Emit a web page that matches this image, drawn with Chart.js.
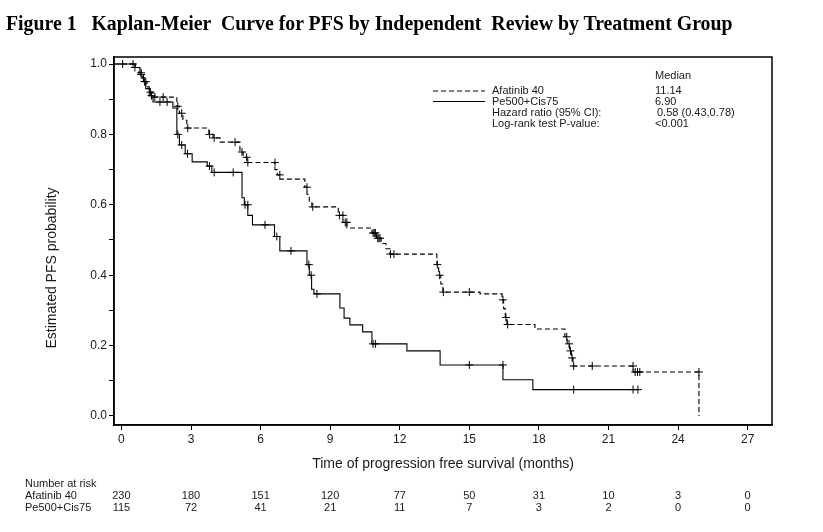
<!DOCTYPE html>
<html>
<head>
<meta charset="utf-8">
<script src="https://cdn.jsdelivr.net/npm/chart.js@4.4.1/dist/chart.umd.min.js"></script>
<style>
  html, body { margin: 0; padding: 0; background: #fff; }
  #wrap { position: relative; width: 823px; height: 532px; }
  #km { position: absolute; left: 0; top: 0; }
  #title {
    position: absolute; left: 6px; top: 12px;
    font: bold 20px "Liberation Serif", "Times New Roman", serif;
    white-space: pre; transform-origin: 0 0; color: #000;
  }
</style>
</head>
<body>
<div id="wrap">
  <canvas id="km" width="823" height="532"></canvas>
  <div id="title">Figure 1   Kaplan-Meier  Curve for PFS by Independent  Review by Treatment Group</div>
</div>
<script>
// KM step data (time in months, estimated PFS probability)
const afatinibTimes = [0, 0.55, 0.75, 0.9, 1.0, 1.1, 1.2, 1.36, 2.39, 2.5, 2.65, 2.82, 3.77, 3.95, 4.25,
  5.11, 5.25, 5.41, 6.62, 6.72, 6.83, 7.91, 8.0, 8.1, 8.21, 9.35, 9.55, 9.72, 10.8, 11.0, 11.2, 11.4, 11.58,
  13.6, 13.68, 13.77, 13.86, 15.46, 16.41, 16.48, 16.55, 16.62, 17.83, 19.12, 19.22, 19.32, 19.4, 19.47, 22.06, 24.9];
const afatinibSurv = [1.0, 0.99, 0.975, 0.96, 0.95, 0.935, 0.92, 0.906, 0.88, 0.86, 0.84, 0.818, 0.80, 0.79, 0.778,
  0.75, 0.735, 0.72, 0.70, 0.685, 0.673, 0.65, 0.63, 0.61, 0.594, 0.57, 0.55, 0.534, 0.52, 0.505, 0.49, 0.475, 0.46,
  0.43, 0.40, 0.375, 0.352, 0.347, 0.33, 0.305, 0.28, 0.26, 0.247, 0.225, 0.205, 0.185, 0.165, 0.142, 0.125, 0.0];
const afatinibCensored = [0.58, 0.85, 1.05, 1.25, 1.44, 1.8, 2.43, 2.6, 2.86, 3.8, 4.0, 4.9, 5.2, 5.4, 5.45,
  6.62, 6.83, 8.0, 8.25, 9.4, 9.55, 9.65, 9.72, 10.85, 10.9, 10.95, 11.05, 11.1, 11.15, 11.6, 11.75,
  13.62, 13.72, 13.88, 15.0, 16.45, 16.58, 16.65, 19.2, 19.3, 19.36, 19.43, 19.5, 20.3, 22.06, 22.15, 22.25, 22.35, 24.9];

const pemTimes = [0, 0.6, 0.8, 0.95, 1.05, 1.2, 1.36, 2.22, 2.39, 2.5, 2.75, 3.05, 3.7, 3.9, 5.2, 5.3, 5.45, 5.65,
  6.6, 6.83, 8.0, 8.1, 8.2, 8.3, 9.42, 9.6, 9.85, 10.4, 10.8, 12.31, 13.74, 16.45, 17.74, 22.27];
const pemSurv = [1.0, 0.99, 0.97, 0.95, 0.93, 0.91, 0.892, 0.875, 0.80, 0.77, 0.745, 0.722, 0.71, 0.692, 0.62, 0.60,
  0.57, 0.543, 0.51, 0.469, 0.43, 0.40, 0.36, 0.347, 0.307, 0.278, 0.259, 0.239, 0.205, 0.185, 0.145, 0.103, 0.075, 0.075];
const pemCensored = [0.05, 0.5, 0.85, 1.0, 1.3, 1.66, 1.97, 2.43, 2.6, 2.85, 3.8, 4.0, 4.82, 5.33, 5.45, 6.19, 6.7,
  7.31, 8.08, 8.18, 8.43, 10.85, 10.95, 15.0, 16.45, 19.5, 22.06, 22.27];

const riskTimes = [0, 3, 6, 9, 12, 15, 18, 21, 24, 27];
const afatinibAtRisk = [230, 180, 151, 120, 77, 50, 31, 10, 3, 0];
const pemAtRisk = [115, 72, 41, 21, 11, 7, 3, 2, 0, 0];

const groupNames = ['Afatinib 40', 'Pe500+Cis75'];
const medians = ['11.14', '6.90'];
const hazardText = '0.58 (0.43,0.78)';
const pValueText = '<0.001';

const X_MIN = -0.32, X_MAX = 28.05;
const Y_MIN = -0.0256, Y_MAX = 1.0199;

function stepPoints(times, surv) {
  const pts = [{ x: X_MIN, y: surv[0] }];
  times.forEach((t, i) => pts.push({ x: t, y: surv[i] }));
  return pts;
}
// value just before time t (censor marks sit on the curve)
function survBefore(times, surv, t) {
  let s = surv[0];
  for (let i = 0; i < times.length; i++) {
    if (times[i] < t) s = surv[i]; else break;
  }
  return s;
}
function censorPoints(cens, times, surv) {
  return cens.map(t => ({ x: t, y: survBefore(times, surv, t) }));
}

const FONT = '"Liberation Sans", Arial, sans-serif';
const TXT = '#1a1a1a';

const decorations = {
  id: 'decorations',
  afterDraw(chart) {
    const { ctx, chartArea: a, scales } = chart;
    ctx.save();
    // frame
    ctx.strokeStyle = '#000';
    ctx.lineWidth = 1.5;
    ctx.strokeRect(a.left, a.top, a.right - a.left, a.bottom - a.top);

    ctx.fillStyle = TXT;
    // axis titles
    ctx.font = '14px ' + FONT;
    ctx.textAlign = 'center';
    ctx.textBaseline = 'middle';
    ctx.fillText('Time of progression free survival (months)', (a.left + a.right) / 2, 464);
    ctx.save();
    ctx.translate(52, 268);
    ctx.rotate(-Math.PI / 2);
    ctx.fillText('Estimated PFS probability', 0, 0);
    ctx.restore();

    // legend block
    ctx.font = '11px ' + FONT;
    ctx.textAlign = 'left';
    ctx.fillText('Median', 655, 76);
    ctx.lineWidth = 1;
    [[5, 3], []].forEach((dash, i) => {
      const y = 91 + i * 10.5;
      ctx.setLineDash(dash);
      ctx.beginPath();
      ctx.moveTo(433, y);
      ctx.lineTo(485, y);
      ctx.stroke();
      ctx.fillText(groupNames[i], 492, y);
      ctx.fillText(medians[i], 655, y);
    });
    ctx.setLineDash([]);
    ctx.fillText('Hazard ratio (95% CI):', 492, 113);
    ctx.fillText(hazardText, 657, 113);
    ctx.fillText('Log-rank test P-value:', 492, 123.5);
    ctx.fillText(pValueText, 655, 123.5);

    // number at risk table
    ctx.fillText('Number at risk', 25, 484);
    ctx.fillText(groupNames[0], 25, 496);
    ctx.fillText(groupNames[1], 25, 508);
    ctx.textAlign = 'center';
    riskTimes.forEach((t, i) => {
      const x = scales.x.getPixelForValue(t);
      ctx.fillText(String(afatinibAtRisk[i]), x, 496);
      ctx.fillText(String(pemAtRisk[i]), x, 508);
    });
    ctx.restore();
  }
};

const axisCommon = {
  type: 'linear',
  grid: { drawOnChartArea: false, drawTicks: true, tickLength: 5, color: '#000', lineWidth: 1 },
  border: { display: true, color: '#000', width: 1.5 },
};

new Chart(document.getElementById('km'), {
  type: 'line',
  data: {
    datasets: [
      {
        label: groupNames[0], data: stepPoints(afatinibTimes, afatinibSurv), stepped: true,
        borderColor: '#000', borderWidth: 1.1, borderDash: [5, 3], pointRadius: 0, fill: false
      },
      {
        label: groupNames[1], data: stepPoints(pemTimes, pemSurv), stepped: true,
        borderColor: '#000', borderWidth: 1.1, pointRadius: 0, fill: false
      },
      {
        label: 'censored A', data: censorPoints(afatinibCensored, afatinibTimes, afatinibSurv), showLine: false,
        pointStyle: 'cross', pointRadius: 4, borderColor: '#000', borderWidth: 1
      },
      {
        label: 'censored P', data: censorPoints(pemCensored, pemTimes, pemSurv), showLine: false,
        pointStyle: 'cross', pointRadius: 4, borderColor: '#000', borderWidth: 1
      }
    ]
  },
  options: {
    responsive: false,
    animation: false,
    devicePixelRatio: 1,
    layout: { padding: { top: 57, right: 51, bottom: 0, left: 0 } },
    plugins: { legend: { display: false }, tooltip: { enabled: false } },
    scales: {
      x: {
        ...axisCommon,
        min: X_MIN, max: X_MAX,
        ticks: { stepSize: 3, includeBounds: false, autoSkip: false, maxRotation: 0,
          color: TXT, font: { family: FONT, size: 12 }, padding: 2 },
        afterFit(s) { s.height = 107; }
      },
      y: {
        ...axisCommon,
        min: Y_MIN, max: Y_MAX,
        ticks: { stepSize: 0.1, includeBounds: false, autoSkip: false,
          color: TXT, font: { family: FONT, size: 12 }, padding: 2,
          callback: v => (Math.round(v * 10) % 2 === 0 ? v.toFixed(1) : '') },
        afterFit(s) { s.width = 114; }
      }
    }
  },
  plugins: [decorations]
});

// stretch the title to the width it spans in the figure
const title = document.getElementById('title');
title.style.transform = 'scaleX(' + (727 / title.offsetWidth) + ')';
</script>
</body>
</html>
